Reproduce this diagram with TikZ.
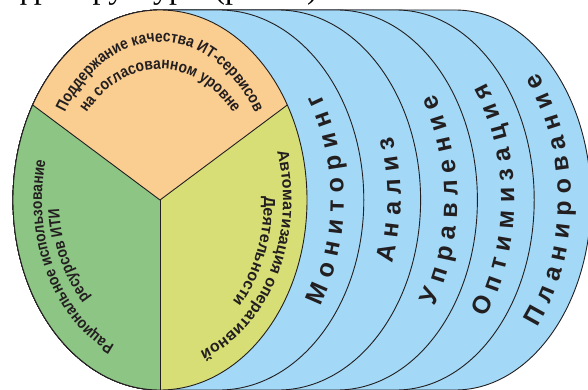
\documentclass[tikz,border=0pt]{standalone}
\usepackage{fontspec}
\setmainfont{Liberation Sans}
\newfontfamily\secfont[FakeStretch=0.86]{Liberation Sans}
\newfontfamily\topfont{Liberation Serif}
\usetikzlibrary{decorations.text}
\definecolor{ora}{RGB}{250,205,145}
\definecolor{grn}{RGB}{141,197,133}
\definecolor{yel}{RGB}{215,222,118}
\definecolor{blu}{RGB}{163,216,246}
\definecolor{lin}{RGB}{35,31,32}
\newcommand\sectfont{\secfont\bfseries\fontsize{16}{19}\selectfont}
\newcommand\yelfont{\bfseries\fontsize{16}{19}\selectfont}
\newcommand\bandfont{\bfseries\fontsize{25}{29}\selectfont}
\tikzset{
  outl/.style={draw=lin, line width=0.9pt},
  sectxt/.style={decorate, decoration={text along path, text align=center, text color=lin}},
  bandtxt/.style={decorate, decoration={text along path, text align=center, text color=lin, raise=-8.5pt}},
}
\begin{document}
\begin{tikzpicture}[x=1pt,y=1pt]
\useasboundingbox (0,0) rectangle (588,389);
\clip (0,0) rectangle (588,389);
\fill[white] (0,0) rectangle (588,389);
% cropped caption line at the top
\node[font=\topfont\fontsize{32}{32}\selectfont, anchor=base west, inner sep=0pt, text=black] (toptext) at (13,390.5) {фраструктуры (рис. 3).};
% blue layers
\foreach \k in {5,4,3,2,1}{
  \pgfmathsetmacro\cx{160+59*\k}
  \pgfmathsetmacro\rx{147-2.2*\k}
  \draw[outl, fill=blu] (160,379) -- (\cx,379) arc[start angle=90, end angle=-90, x radius=\rx pt, y radius=190pt] -- (160,-1) arc[start angle=270, end angle=90, x radius=147pt, y radius=190pt] -- cycle;
}
% main disc
\coordinate (O) at (160,189);
\coordinate (A) at ([shift={(160,189)}]150:147pt and 190pt);
\coordinate (C) at ([shift={(160,189)}]30:147pt and 190pt);
\coordinate (B) at (160,-1);
\fill[ora] (O) -- (A) arc[start angle=150, end angle=30, x radius=147pt, y radius=190pt] -- cycle;
\fill[grn] (O) -- (A) arc[start angle=150, end angle=270, x radius=147pt, y radius=190pt] -- cycle;
\fill[yel] (O) -- (B) arc[start angle=-90, end angle=30, x radius=147pt, y radius=190pt] -- cycle;
\draw[outl] (O) ellipse [x radius=147pt, y radius=190pt];
\draw[outl] (O) -- (A);
\draw[outl] (O) -- (C);
\draw[outl] (O) -- (B);
% sector texts
\path[sectxt, decoration={text={|\sectfont|Поддержание качества ИТ-сервисов}}]
  ({160+114*cos(170)},{189+158*sin(170)}) arc[start angle=170, end angle=10, x radius=114pt, y radius=158pt];
\path[sectxt, decoration={text={|\sectfont|на согласованном уровне}}]
  ({160+98*cos(170)},{189+131*sin(170)}) arc[start angle=170, end angle=10, x radius=98pt, y radius=131pt];
\path[sectxt, decoration={text={|\sectfont|Рациональное использование}}]
  ({160+118*cos(285)},{189+157*sin(285)}) arc[start angle=285, end angle=135, x radius=118pt, y radius=157pt];
\path[sectxt, decoration={text={|\sectfont|ресурсов ИТИ}}]
  ({160+101*cos(280)},{189+136*sin(280)}) arc[start angle=280, end angle=140, x radius=101pt, y radius=136pt];
\path[sectxt, decoration={text={|\yelfont|Автоматизация оперативной}}]
  ({160+123*cos(55)},{189+160*sin(55)}) arc[start angle=55, end angle=-115, x radius=123pt, y radius=160pt];
\path[sectxt, decoration={text={|\yelfont|Деятельности}}]
  ({160+104*cos(50)},{189+142*sin(50)}) arc[start angle=50, end angle=-105, x radius=104pt, y radius=142pt];
% band texts
\foreach \k/\word in {1/{М о н и т о р и н г},2/{А н а л и з},3/{У п р а в л е н и е},4/{О п т и м и з а ц и я},5/{П л а н и р о в а н и е}}{
  \pgfmathsetmacro\mcx{160+59*(\k-0.5)}
  \pgfmathsetmacro\mrx{147-2.2*(\k-0.5)}
  \path[bandtxt, decoration={text/.expanded={|\noexpand\bandfont|\word}}]
    ({\mcx+\mrx*cos(-87)},{189+190*sin(-87)}) arc[start angle=-87, end angle=87, x radius=\mrx pt, y radius=190pt];
}
\end{tikzpicture}
\end{document}
